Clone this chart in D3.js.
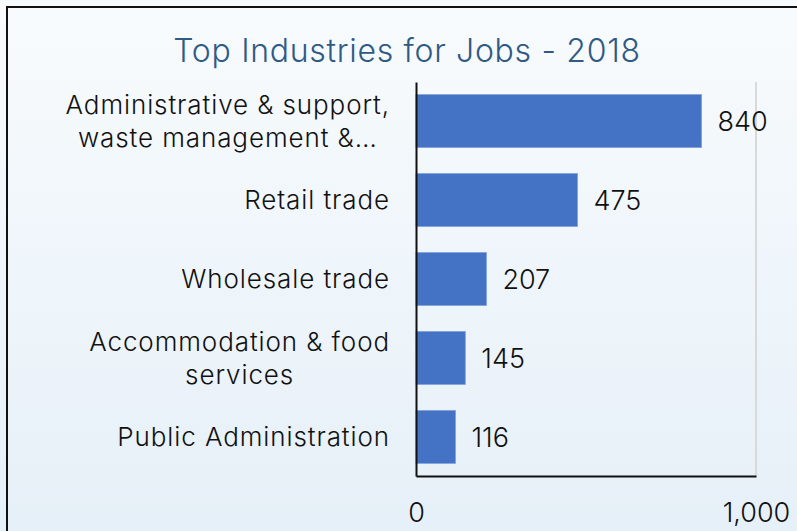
<!DOCTYPE html>
<html>
<head>
<meta charset="utf-8">
<script src="https://cdn.jsdelivr.net/npm/d3@7"></script>
<style>
  html, body { margin: 0; padding: 0; overflow: hidden; }
  svg { display: block; }
</style>
</head>
<body>
<svg id="chart"></svg>
<script>
// chart data
const categories = [
  "Administrative & support,\nwaste management &…",
  "Retail trade",
  "Wholesale trade",
  "Accommodation & food\nservices",
  "Public Administration"
];
const values = [840, 475, 207, 145, 116];
const xTicks = [0, 1000];
const title = "Top Industries for Jobs - 2018";

const W = 797, H = 531;
const margin = { top: 82, right: 41, bottom: 55, left: 416 };
const width = W - margin.left - margin.right;
const height = H - margin.top - margin.bottom;
const fontFamily = "Inter, 'Noto Sans', sans-serif";

const svg = d3.select("#chart").attr("width", W).attr("height", H);

// background gradient
const defs = svg.append("defs");
const grad = defs.append("linearGradient")
  .attr("id", "bg").attr("x1", 0).attr("y1", 0).attr("x2", 0).attr("y2", 1);
grad.append("stop").attr("offset", "0%").attr("stop-color", "#f8fbfd");
grad.append("stop").attr("offset", "100%").attr("stop-color", "#e6f0f8");

svg.append("rect").attr("width", W).attr("height", H).attr("fill", "url(#bg)");

// outer frame (top + left edges visible)
svg.append("path")
  .attr("d", `M7,${H} L7,7 L${W},7`)
  .attr("fill", "none")
  .attr("stroke", "#111")
  .attr("stroke-width", 2);

svg.append("text")
  .attr("x", 407)
  .attr("y", 62)
  .attr("text-anchor", "middle")
  .style("font-family", fontFamily)
  .style("font-size", "32px")
  .style("font-weight", 300)
  .style("letter-spacing", "0.7px")
  .style("fill", "#2f5a86")
  .text(title);

const g = svg.append("g").attr("transform", `translate(${margin.left},${margin.top})`);

const x = d3.scaleLinear().domain([0, 1000]).range([0, width]);
const y = d3.scaleBand().domain(categories).range([0, height])
  .paddingInner(0.33).paddingOuter(0.16);

// gridlines
g.append("g")
  .selectAll("line")
  .data(xTicks.filter(d => d > 0))
  .join("line")
  .attr("x1", d => x(d)).attr("x2", d => x(d))
  .attr("y1", 0).attr("y2", height)
  .attr("stroke", "#d9d9d9")
  .attr("stroke-width", 2);

// bars
g.selectAll(".bar")
  .data(values)
  .join("rect")
  .attr("class", "bar")
  .attr("x", 0)
  .attr("y", (d, i) => y(categories[i]))
  .attr("width", d => x(d))
  .attr("height", y.bandwidth())
  .attr("fill", "#4472c4")
  .attr("stroke", "#7fa0dc")
  .attr("stroke-width", 0.8);

// value labels
g.selectAll(".val")
  .data(values)
  .join("text")
  .attr("class", "val")
  .attr("x", d => x(d) + 16)
  .attr("y", (d, i) => y(categories[i]) + y.bandwidth() / 2)
  .attr("dy", "0.36em")
  .style("font-family", fontFamily)
  .style("font-size", "27px")
  .style("font-weight", 300)
  .style("fill", "#111")
  .text(d => d);

// axes
const xAxis = g.append("g")
  .attr("transform", `translate(0,${height})`)
  .call(d3.axisBottom(x).tickValues(xTicks).tickSize(0).tickPadding(27)
    .tickFormat(d3.format(",")));
xAxis.select(".domain").attr("stroke", "#111").attr("stroke-width", 2);
xAxis.selectAll("text")
  .style("font-family", fontFamily)
  .style("font-size", "27px")
  .style("font-weight", 300)
  .style("fill", "#111")
  .attr("dy", "0.71em");

const yAxis = g.append("g")
  .call(d3.axisLeft(y).tickSize(0).tickFormat(""));
yAxis.select(".domain").attr("stroke", "#111").attr("stroke-width", 2);

// category labels, wrapped lines centred within a right-aligned block
const labelRight = 390;
const lineH = 33;
const labels = g.append("g").attr("transform", `translate(${-margin.left},0)`);
categories.forEach((c, i) => {
  const lines = c.split("\n");
  const cy = y(c) + y.bandwidth() / 2;
  const t = labels.append("text")
    .style("font-family", fontFamily)
    .style("font-size", "26px")
    .style("font-weight", 300)
    .style("letter-spacing", "0.9px")
    .style("fill", "#111");
  const spans = lines.map((ln, k) => t.append("tspan")
    .attr("y", cy + (k - (lines.length - 1) / 2) * lineH)
    .attr("dy", "0.36em")
    .text(ln));
  const widths = spans.map(s => s.node().getComputedTextLength());
  const blockW = d3.max(widths);
  spans.forEach((s, k) => {
    s.attr("x", labelRight - blockW / 2).attr("text-anchor", "middle");
  });
});
</script>
</body>
</html>
